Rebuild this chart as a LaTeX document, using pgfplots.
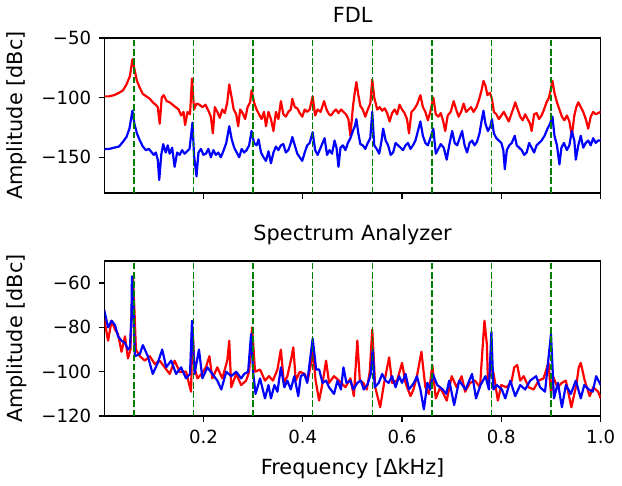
\documentclass[border=0pt]{standalone}
\usepackage{fontspec}
\setmainfont{DejaVu Sans}
\usepackage{pgfplots}
\pgfplotsset{compat=1.18}
\definecolor{mplred}{RGB}{255,0,0}
\definecolor{mplblue}{RGB}{0,0,255}
\definecolor{mplgreen}{RGB}{0,128,0}
\pgfplotsset{
  common/.style={
    scale only axis, width=238pt, height=74.5pt,
    xmin=0.001, xmax=1.0,
    xtick={0.2,0.4,0.6,0.8,1.0},
    tick align=outside, major tick length=2.9pt,
    xtick pos=bottom, ytick pos=left,
    axis line style={line width=0.67pt},
    every tick/.style={black, line width=0.67pt},
    tick label style={font=\fontsize{8.7}{10}\selectfont},
    xticklabel style={yshift=-0.4pt},
    label style={font=\fontsize{10}{12}\selectfont},
    title style={font=\fontsize{10}{12}\selectfont, yshift=-2pt},
    ylabel={Amplitude [dBc]},
    /pgf/number format/assume math mode=true,
    clip=true,
  },
  vl/.style={mplgreen, line width=0.7pt, dash pattern=on 3.1pt off 1.3pt, forget plot},
  sig/.style={line width=1.05pt, line join=round, mark=none},
}
\begin{document}
\begin{tikzpicture}
\begin{axis}[common, name=top, at={(0,0)}, anchor=south west,
  ymin=-180, ymax=-50, ytick={-150,-100,-50}, yticklabels={−150,−100,−50},
  xticklabels={}, title={FDL}]
\addplot[sig, mplred] table {
0.000 -99
0.010 -99
0.020 -98
0.030 -96
0.038 -94
0.045 -89
0.052 -82
0.057 -68
0.061 -76
0.066 -86
0.072 -92
0.078 -97
0.085 -99
0.092 -101
0.098 -104
0.104 -106
0.108 -108
0.112 -122
0.116 -100
0.120 -98
0.126 -103
0.132 -104
0.138 -106
0.144 -108
0.150 -110
0.155 -115
0.160 -112
0.163 -123
0.168 -112
0.173 -114
0.177 -84
0.181 -110
0.186 -105
0.192 -106
0.198 -108
0.204 -106
0.210 -111
0.215 -116
0.219 -130
0.223 -108
0.228 -112
0.233 -117
0.238 -110
0.243 -113
0.248 -104
0.252 -89
0.256 -98
0.261 -110
0.266 -114
0.270 -124
0.274 -110
0.279 -113
0.284 -118
0.289 -108
0.294 -104
0.297 -94
0.302 -104
0.307 -110
0.312 -114
0.317 -118
0.322 -112
0.326 -124
0.331 -112
0.336 -118
0.341 -128
0.346 -112
0.351 -118
0.356 -103
0.361 -114
0.366 -116
0.371 -112
0.376 -110
0.379 -101
0.384 -108
0.389 -109
0.394 -113
0.399 -116
0.404 -110
0.409 -112
0.414 -110
0.420 -99
0.425 -115
0.430 -110
0.436 -112
0.443 -103
0.448 -110
0.453 -114
0.457 -115
0.462 -112
0.467 -110
0.472 -113
0.477 -110
0.482 -112
0.487 -114
0.492 -118
0.496 -132
0.501 -108
0.505 -95
0.508 -87
0.512 -98
0.516 -107
0.521 -110
0.526 -116
0.531 -110
0.536 -105
0.540 -85
0.544 -100
0.550 -110
0.555 -108
0.560 -111
0.565 -109
0.570 -113
0.575 -120
0.580 -113
0.585 -110
0.590 -114
0.595 -106
0.600 -110
0.605 -113
0.610 -118
0.614 -130
0.619 -112
0.624 -110
0.630 -106
0.637 -98
0.642 -108
0.647 -112
0.652 -119
0.657 -112
0.663 -100
0.668 -114
0.673 -116
0.678 -113
0.683 -120
0.687 -128
0.692 -115
0.698 -112
0.704 -103
0.709 -110
0.714 -116
0.719 -112
0.724 -105
0.729 -112
0.734 -110
0.739 -108
0.744 -112
0.750 -108
0.755 -102
0.760 -94
0.764 -86
0.768 -90
0.772 -98
0.777 -96
0.781 -101
0.785 -112
0.790 -114
0.795 -118
0.800 -115
0.805 -112
0.810 -116
0.815 -120
0.820 -114
0.825 -108
0.828 -104
0.833 -110
0.838 -116
0.843 -119
0.848 -114
0.853 -118
0.858 -122
0.861 -128
0.866 -114
0.871 -113
0.876 -118
0.881 -115
0.886 -110
0.891 -104
0.896 -100
0.899 -94
0.903 -86
0.907 -96
0.912 -104
0.917 -110
0.922 -116
0.927 -119
0.932 -115
0.937 -120
0.942 -132
0.947 -115
0.951 -108
0.955 -104
0.960 -108
0.965 -112
0.970 -118
0.975 -126
0.980 -116
0.985 -112
0.990 -114
0.995 -113
1.000 -112
};
\addplot[sig, mplblue] table {
0.000 -143
0.010 -143
0.020 -142
0.030 -141
0.038 -137
0.045 -133
0.051 -126
0.057 -111
0.061 -122
0.066 -130
0.072 -136
0.078 -141
0.084 -144
0.090 -143
0.096 -146
0.100 -148
0.104 -146
0.108 -152
0.111 -169
0.115 -148
0.119 -139
0.124 -146
0.128 -140
0.132 -147
0.137 -142
0.142 -158
0.147 -146
0.152 -148
0.157 -144
0.162 -147
0.167 -145
0.172 -143
0.176 -128
0.178 -121
0.181 -148
0.186 -166
0.190 -146
0.195 -143
0.200 -148
0.205 -147
0.210 -143
0.215 -150
0.220 -144
0.225 -148
0.230 -146
0.235 -150
0.240 -145
0.246 -138
0.252 -124
0.257 -135
0.262 -142
0.267 -146
0.272 -150
0.277 -143
0.282 -146
0.287 -144
0.292 -140
0.297 -128
0.302 -138
0.307 -140
0.311 -135
0.316 -146
0.321 -150
0.326 -153
0.331 -145
0.336 -155
0.341 -146
0.346 -141
0.351 -144
0.356 -140
0.361 -139
0.366 -146
0.371 -144
0.376 -138
0.379 -133
0.384 -140
0.389 -147
0.394 -150
0.399 -153
0.404 -146
0.409 -140
0.414 -138
0.420 -129
0.425 -144
0.430 -148
0.435 -143
0.440 -138
0.444 -134
0.449 -148
0.454 -144
0.459 -147
0.464 -136
0.468 -142
0.472 -158
0.476 -142
0.481 -140
0.486 -144
0.491 -138
0.496 -134
0.501 -128
0.505 -124
0.508 -118
0.512 -130
0.516 -139
0.521 -140
0.526 -143
0.531 -138
0.536 -134
0.540 -112
0.544 -140
0.549 -143
0.554 -147
0.558 -138
0.562 -126
0.567 -136
0.572 -140
0.577 -148
0.582 -146
0.587 -138
0.592 -140
0.597 -142
0.602 -144
0.607 -140
0.612 -138
0.617 -143
0.622 -140
0.627 -136
0.632 -128
0.637 -120
0.642 -132
0.647 -138
0.652 -140
0.657 -134
0.663 -126
0.668 -147
0.673 -143
0.678 -139
0.684 -142
0.690 -152
0.695 -140
0.701 -128
0.706 -138
0.711 -140
0.716 -134
0.721 -128
0.726 -140
0.731 -146
0.736 -138
0.741 -136
0.746 -140
0.751 -137
0.756 -130
0.760 -120
0.764 -111
0.768 -122
0.773 -128
0.778 -124
0.781 -118
0.785 -130
0.790 -134
0.795 -136
0.800 -138
0.804 -144
0.807 -160
0.811 -144
0.816 -140
0.821 -138
0.827 -132
0.831 -140
0.836 -142
0.841 -144
0.846 -148
0.851 -146
0.856 -138
0.861 -142
0.866 -146
0.871 -140
0.876 -138
0.881 -136
0.887 -132
0.893 -126
0.898 -122
0.903 -116
0.907 -132
0.912 -140
0.917 -156
0.921 -142
0.926 -138
0.932 -144
0.937 -140
0.942 -128
0.947 -136
0.950 -152
0.955 -140
0.960 -132
0.965 -142
0.970 -138
0.975 -136
0.980 -140
0.985 -134
0.990 -138
0.995 -136
1.000 -136
};
\addplot[vl] coordinates {(0.06,-180) (0.06,-50)};
\addplot[vl] coordinates {(0.18,-180) (0.18,-50)};
\addplot[vl] coordinates {(0.30,-180) (0.30,-50)};
\addplot[vl] coordinates {(0.42,-180) (0.42,-50)};
\addplot[vl] coordinates {(0.54,-180) (0.54,-50)};
\addplot[vl] coordinates {(0.66,-180) (0.66,-50)};
\addplot[vl] coordinates {(0.78,-180) (0.78,-50)};
\addplot[vl] coordinates {(0.90,-180) (0.90,-50)};
\end{axis}
\begin{axis}[common, at={(0,-32.5pt)}, anchor=north west,
  ymin=-120, ymax=-50, ytick={-120,-100,-80,-60}, yticklabels={−120,−100,−80,−60},
  xticklabels={0.2,0.4,0.6,0.8,1.0}, xlabel={Frequency [ΔkHz]}, title={Spectrum Analyzer}]
\addplot[sig, mplred] table {
0.000 -76
0.008 -86
0.015 -77
0.022 -81
0.028 -83
0.035 -91
0.042 -84
0.048 -94
0.053 -90
0.056 -70
0.058 -57
0.061 -72
0.064 -90
0.072 -93
0.082 -95
0.092 -93
0.102 -96.5
0.112 -95
0.122 -98
0.132 -101
0.142 -95
0.152 -100
0.165 -100
0.175 -109
0.178 -80
0.182 -98
0.188 -103
0.196 -101
0.205 -98
0.212 -93
0.218 -103
0.228 -98
0.238 -103
0.248 -95
0.252 -86
0.256 -107
0.266 -101
0.276 -106
0.286 -104
0.292 -100
0.298 -80
0.304 -100
0.314 -99
0.324 -104
0.332 -102
0.340 -104
0.349 -99
0.356 -90
0.362 -105
0.369 -102
0.377 -94
0.381 -89
0.386 -104
0.394 -100
0.404 -101
0.410 -104
0.417 -96
0.420 -90
0.426 -104
0.433 -113
0.440 -105
0.447 -95
0.453 -105
0.463 -102
0.473 -104
0.486 -107
0.496 -103
0.503 -111
0.506 -100
0.510 -86
0.515 -104
0.522 -105
0.529 -108
0.535 -100
0.540 -81
0.546 -107
0.556 -116
0.564 -105
0.574 -93.5
0.580 -105
0.590 -104
0.600 -96
0.607 -105
0.617 -111
0.623 -108
0.630 -102
0.639 -91
0.647 -107
0.654 -110
0.661 -97
0.668 -112
0.677 -107
0.690 -113
0.700 -102
0.710 -107
0.720 -102
0.727 -109
0.737 -105
0.747 -104
0.757 -107
0.762 -90
0.766 -77
0.771 -88
0.773 -105
0.778 -100
0.781 -97
0.786 -103
0.793 -113
0.800 -106
0.810 -107
0.820 -105
0.826 -98
0.832 -97
0.838 -104
0.845 -102
0.855 -107
0.865 -108
0.875 -104
0.885 -103
0.892 -98
0.895 -96
0.900 -110
0.904 -102
0.913 -107
0.922 -105
0.930 -104
0.941 -116
0.951 -106
0.956 -98
0.960 -96
0.968 -104
0.978 -111
0.985 -107
0.995 -109
1.000 -112
};
\addplot[sig, mplblue] table {
0.000 -72
0.008 -80
0.015 -77
0.022 -79
0.028 -84
0.035 -86
0.042 -87
0.048 -90
0.052 -89
0.055 -75
0.056 -57
0.059 -70
0.062 -93
0.072 -92
0.078 -88
0.088 -93
0.098 -101
0.108 -96
0.117 -90
0.125 -98
0.135 -95
0.145 -101
0.155 -98
0.165 -103
0.173 -101
0.177 -77
0.182 -101
0.191 -90
0.198 -103
0.208 -98
0.218 -101
0.228 -104
0.236 -108
0.246 -100
0.256 -102
0.266 -100
0.276 -103
0.282 -101
0.290 -100
0.296 -83
0.300 -100
0.305 -110
0.314 -103
0.324 -112
0.331 -106
0.336 -112
0.343 -106
0.349 -109
0.356 -98
0.363 -107
0.369 -104
0.376 -108
0.383 -102
0.391 -111
0.396 -102
0.403 -101
0.409 -105
0.420 -85
0.427 -99
0.433 -99
0.440 -105
0.447 -104
0.453 -107
0.463 -110
0.470 -104
0.477 -108
0.482 -98
0.488 -105
0.496 -104
0.502 -108
0.510 -105
0.517 -104
0.523 -108
0.530 -106
0.537 -101
0.541 -90
0.545 -107
0.553 -105
0.560 -101
0.567 -104
0.573 -105
0.580 -102
0.587 -107
0.594 -102
0.600 -105
0.607 -101
0.614 -108
0.624 -105
0.630 -102
0.637 -108
0.644 -117
0.651 -105
0.657 -108
0.662 -101
0.671 -106
0.682 -108
0.689 -110
0.695 -104
0.705 -115
0.715 -104
0.728 -108
0.741 -101
0.749 -112
0.758 -106
0.768 -102
0.775 -108
0.780 -82
0.784 -108
0.791 -106
0.801 -108
0.808 -112
0.818 -104
0.828 -111
0.838 -106
0.848 -108
0.858 -104
0.870 -102
0.878 -107
0.888 -109
0.900 -83
0.906 -112
0.914 -105
0.922 -116
0.930 -106
0.940 -110
0.950 -104
0.960 -112
0.967 -106
0.976 -108
0.984 -109
0.991 -102
1.000 -106
};
\addplot[vl] coordinates {(0.06,-120) (0.06,-50)};
\addplot[vl] coordinates {(0.18,-120) (0.18,-50)};
\addplot[vl] coordinates {(0.30,-120) (0.30,-50)};
\addplot[vl] coordinates {(0.42,-120) (0.42,-50)};
\addplot[vl] coordinates {(0.54,-120) (0.54,-50)};
\addplot[vl] coordinates {(0.66,-120) (0.66,-50)};
\addplot[vl] coordinates {(0.78,-120) (0.78,-50)};
\addplot[vl] coordinates {(0.90,-120) (0.90,-50)};
\end{axis}
\end{tikzpicture}
\end{document}
